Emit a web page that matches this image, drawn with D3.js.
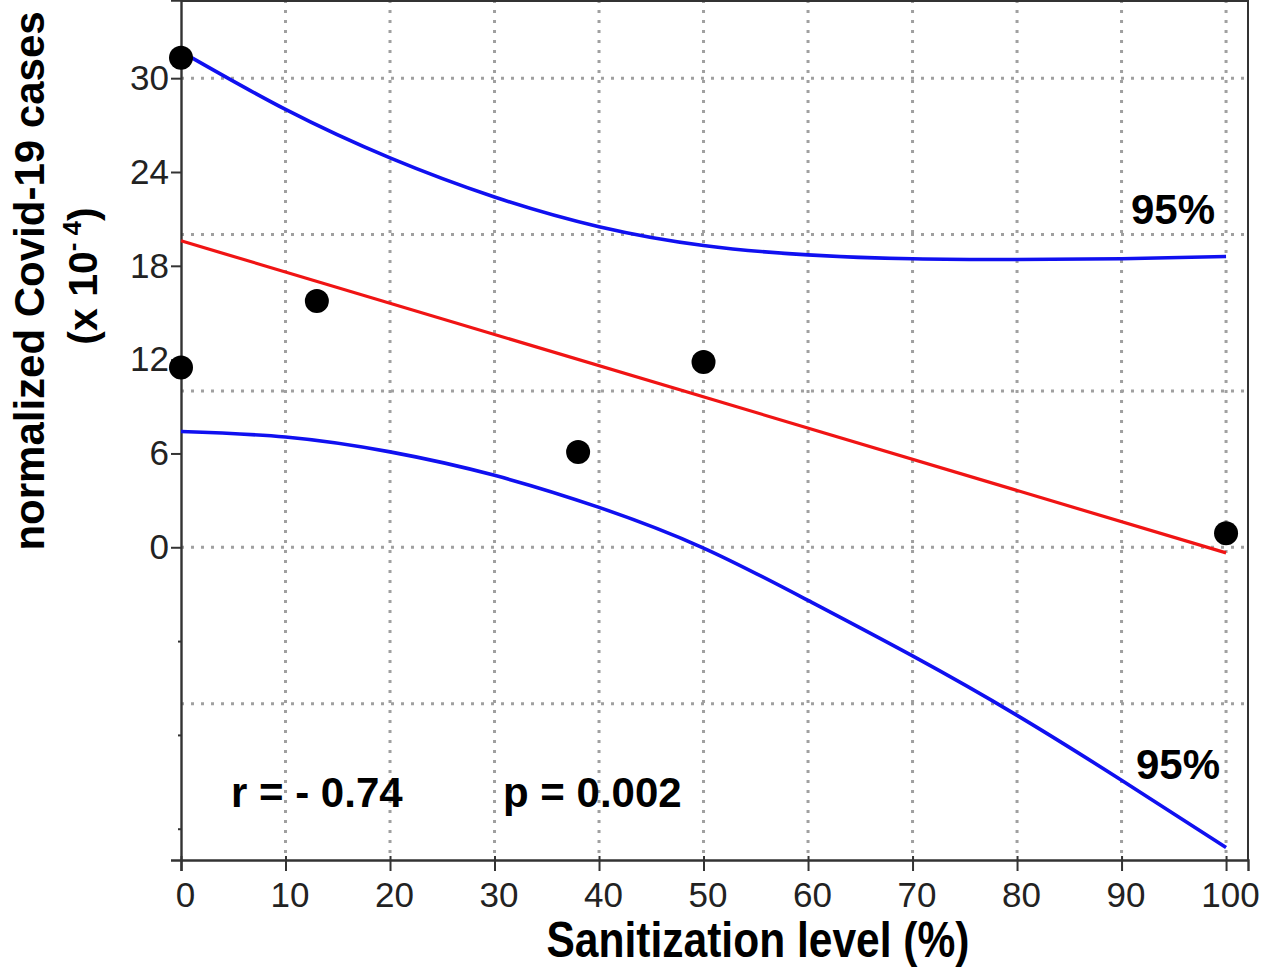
<!DOCTYPE html>
<html>
<head>
<meta charset="utf-8">
<script src="https://cdn.jsdelivr.net/npm/d3@7"></script>
<style>
  html, body { margin: 0; padding: 0; background: #fff; }
  svg { display: block; }
  text { font-family: "Liberation Sans", Arial, sans-serif; }
</style>
</head>
<body>
<svg id="chart" width="1265" height="970"></svg>
<script>
// ---- data ----
const sanitization = [0, 0, 13, 38, 50, 100];
const cases = [31.3, 11.5, 15.75, 6.1, 11.85, 0.9];

const fitX = [0, 100];
const fitY = [19.6, -0.36];

const bandX = [0, 10, 20, 30, 40, 50, 60, 70, 80, 90, 100];
const upper95 = [31.7, 28.0, 24.9, 22.4, 20.5, 19.3, 18.7, 18.45, 18.4, 18.45, 18.6];
const lower95 = [7.4, 7.05, 6.1, 4.6, 2.55, -0.05, -3.4, -6.95, -10.75, -14.9, -19.2];

const xTicks = [0, 10, 20, 30, 40, 50, 60, 70, 80, 90, 100];
const yTicks = [0, 6, 12, 18, 24, 30];
const yMinorTicks = [-6, -12, -18];
const xGrid = [10, 20, 30, 40, 50, 60, 70, 80, 90, 100];
const yGrid = [-10, 0, 10, 20, 30];

// ---- scales ----
const svg = d3.select("#chart");
const x = d3.scaleLinear().domain([0, 102.1]).range([181, 1248]);
const y = d3.scaleLinear().domain([-20, 35]).range([860, 0]);

const gridColor = "#a0a0a0";
const axisColor = "#333";

// grid
svg.append("g").selectAll("line").data(xGrid).join("line")
  .attr("x1", d => x(d)).attr("x2", d => x(d))
  .attr("y1", y(35)).attr("y2", y(-20))
  .attr("stroke", gridColor).attr("stroke-width", 3)
  .attr("stroke-dasharray", "3 7");
svg.append("g").selectAll("line").data(yGrid).join("line")
  .attr("x1", x(0)).attr("x2", x(102.1))
  .attr("y1", d => y(d)).attr("y2", d => y(d))
  .attr("stroke", gridColor).attr("stroke-width", 3)
  .attr("stroke-dasharray", "3 7");

// frame (top & right)
svg.append("path")
  .attr("d", `M${x(0)},${y(35)+1} H${x(102.1)} V${y(-20)}`)
  .attr("fill", "none").attr("stroke", axisColor).attr("stroke-width", 2);

// x axis
const xAxis = svg.append("g").attr("transform", `translate(0,${y(-20)})`)
  .call(d3.axisBottom(x).tickValues(xTicks).tickSize(11).tickPadding(10).tickFormat(d3.format("d")));
xAxis.select(".domain").attr("stroke", axisColor).attr("stroke-width", 2.4);
xAxis.selectAll(".tick line").attr("stroke", axisColor).attr("stroke-width", 2).attr("y1", -4);
xAxis.selectAll(".tick text")
  .attr("font-size", 35).attr("fill", "#222").attr("font-family", "Liberation Sans, Arial, sans-serif")
  .attr("dx", 4).attr("y", 22);

// y axis
const yAxis = svg.append("g").attr("transform", `translate(${x(0)},0)`)
  .call(d3.axisLeft(y).tickValues(yTicks).tickSize(10).tickPadding(2).tickFormat(d3.format("d")));
yAxis.select(".domain").attr("stroke", axisColor).attr("stroke-width", 2.4);
yAxis.selectAll(".tick line").attr("stroke", axisColor).attr("stroke-width", 2);
yAxis.selectAll(".tick text")
  .attr("font-size", 35).attr("fill", "#222").attr("font-family", "Liberation Sans, Arial, sans-serif");
const yMinor = svg.append("g").attr("transform", `translate(${x(0)},0)`)
  .call(d3.axisLeft(y).tickValues(yMinorTicks).tickSize(3).tickFormat(""));
yMinor.select(".domain").remove();
yMinor.selectAll(".tick line").attr("stroke", axisColor).attr("stroke-width", 2);

// confidence bands
const line = d3.line().x(d => x(d[0])).y(d => y(d[1])).curve(d3.curveNatural);
svg.append("path").datum(bandX.map((v, i) => [v, upper95[i]]))
  .attr("d", line).attr("fill", "none").attr("stroke", "#1010f0").attr("stroke-width", 3.6);
svg.append("path").datum(bandX.map((v, i) => [v, lower95[i]]))
  .attr("d", line).attr("fill", "none").attr("stroke", "#1010f0").attr("stroke-width", 3.6);

// regression line
svg.append("path").datum(fitX.map((v, i) => [v, fitY[i]]))
  .attr("d", d3.line().x(d => x(d[0])).y(d => y(d[1])))
  .attr("fill", "none").attr("stroke", "#f01414").attr("stroke-width", 3.2);

// points
svg.append("g").selectAll("circle").data(sanitization.map((v, i) => [v, cases[i]])).join("circle")
  .attr("cx", d => x(d[0])).attr("cy", d => y(d[1])).attr("r", 12).attr("fill", "#000");

// annotations
const bold = sel => sel.attr("font-weight", "bold").attr("fill", "#000");
svg.append("text").attr("x", 231).attr("y", 807).attr("font-size", 42).call(bold).text("r = - 0.74");
svg.append("text").attr("x", 503).attr("y", 807).attr("font-size", 42).call(bold).text("p = 0.002");
svg.append("text").attr("x", 1131).attr("y", 224).attr("font-size", 42).call(bold).text("95%");
svg.append("text").attr("x", 1136).attr("y", 779).attr("font-size", 42).call(bold).text("95%");

// axis titles
svg.append("text").attr("x", 758).attr("y", 957).attr("text-anchor", "middle")
  .attr("font-size", 50).attr("textLength", 423).attr("lengthAdjust", "spacingAndGlyphs")
  .call(bold).text("Sanitization level (%)");

svg.append("text").attr("transform", "translate(44,281) rotate(-90)").attr("text-anchor", "middle")
  .attr("font-size", 42).call(bold).text("normalized Covid-19 cases");

const t2 = svg.append("text").attr("transform", "translate(97,276) rotate(-90)").attr("text-anchor", "middle")
  .attr("font-size", 41).call(bold);
t2.append("tspan").text("(x 10");
t2.append("tspan").attr("font-size", 26).attr("dy", -16).text("- 4");
t2.append("tspan").attr("dy", 16).text(")");
</script>
</body>
</html>
